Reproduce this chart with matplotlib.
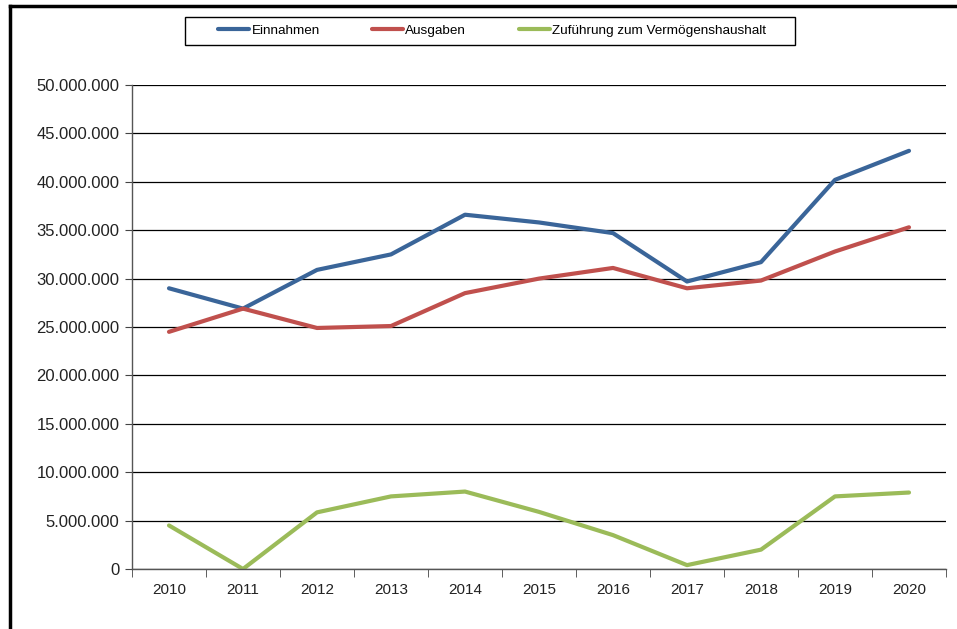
import matplotlib.pyplot as plt
from matplotlib.lines import Line2D
from matplotlib.patches import Rectangle
from matplotlib.ticker import FuncFormatter, MultipleLocator

plt.rcParams['font.family'] = ['Liberation Sans', 'DejaVu Sans']

years = ["2010", "2011", "2012", "2013", "2014", "2015", "2016", "2017", "2018", "2019", "2020"]
einnahmen = [29.0, 26.9, 30.9, 32.5, 36.6, 35.8, 34.7, 29.7, 31.7, 40.2, 43.2]
ausgaben = [24.5, 26.9, 24.9, 25.1, 28.5, 30.0, 31.1, 29.0, 29.8, 32.8, 35.3]
zufuehrung = [4.5, 0.0, 5.85, 7.5, 8.0, 5.9, 3.5, 0.4, 2.0, 7.5, 7.9]

einnahmen = [v * 1e6 for v in einnahmen]
ausgaben = [v * 1e6 for v in ausgaben]
zufuehrung = [v * 1e6 for v in zufuehrung]

W, H = 957, 629
fig = plt.figure(figsize=(W / 100, H / 100), dpi=100)
ax = fig.add_axes([132 / W, 1 - 569 / H, 814 / W, 484 / H])

x = range(len(years))
ax.plot(x, einnahmen, color="#3A6599", lw=3, label="Einnahmen", solid_capstyle="round")
ax.plot(x, ausgaben, color="#C0504D", lw=3, label="Ausgaben", solid_capstyle="round")
ax.plot(x, zufuehrung, color="#9BBB59", lw=3, label="Zuführung zum Vermögenshaushalt", solid_capstyle="round")

ax.set_xlim(-0.5, len(years) - 0.5)
ax.set_ylim(0, 50e6)
ax.yaxis.set_major_locator(MultipleLocator(5e6))
ax.yaxis.set_major_formatter(FuncFormatter(lambda v, p: f"{int(v):,}".replace(",", ".")))
ax.grid(axis="y", color="#000000", lw=0.9)
ax.set_axisbelow(True)

ax.set_xticks(list(x))
ax.set_xticklabels(years)
ax.set_xticks([i - 0.5 for i in range(len(years) + 1)], minor=True)
ax.tick_params(axis="x", which="major", length=0, pad=10, labelsize=11, colors="#222222")
ax.tick_params(axis="x", which="minor", length=6, color="#444444")
ax.tick_params(axis="y", length=5, color="#444444", labelsize=12, labelcolor="#222222", pad=4)

for s in ["top", "right"]:
    ax.spines[s].set_visible(False)
for s in ["left", "bottom"]:
    ax.spines[s].set_color("#555555")
    ax.spines[s].set_linewidth(1.0)

# legend box drawn separately so the horizontal padding matches
fig.add_artist(Rectangle((185 / W, 1 - 45 / H), 610 / W, 28 / H, transform=fig.transFigure,
                         facecolor="white", edgecolor="black", lw=1.0, zorder=3))
leg = fig.legend(loc="center", bbox_to_anchor=(492 / W, 1 - 31 / H), ncol=3, fontsize=9.7,
                 frameon=False, handlelength=2.3, handletextpad=0.15, columnspacing=3.9)
leg.set_zorder(4)

# outer frame (left and top)
fig.add_artist(Line2D([10 / W, 10 / W], [0, 1 - 6 / H], color="black", lw=2.5,
                      transform=fig.transFigure))
fig.add_artist(Line2D([10 / W, 1], [1 - 6 / H, 1 - 6 / H], color="black", lw=2.5,
                      transform=fig.transFigure))

fig.savefig("out.png", dpi=100)
